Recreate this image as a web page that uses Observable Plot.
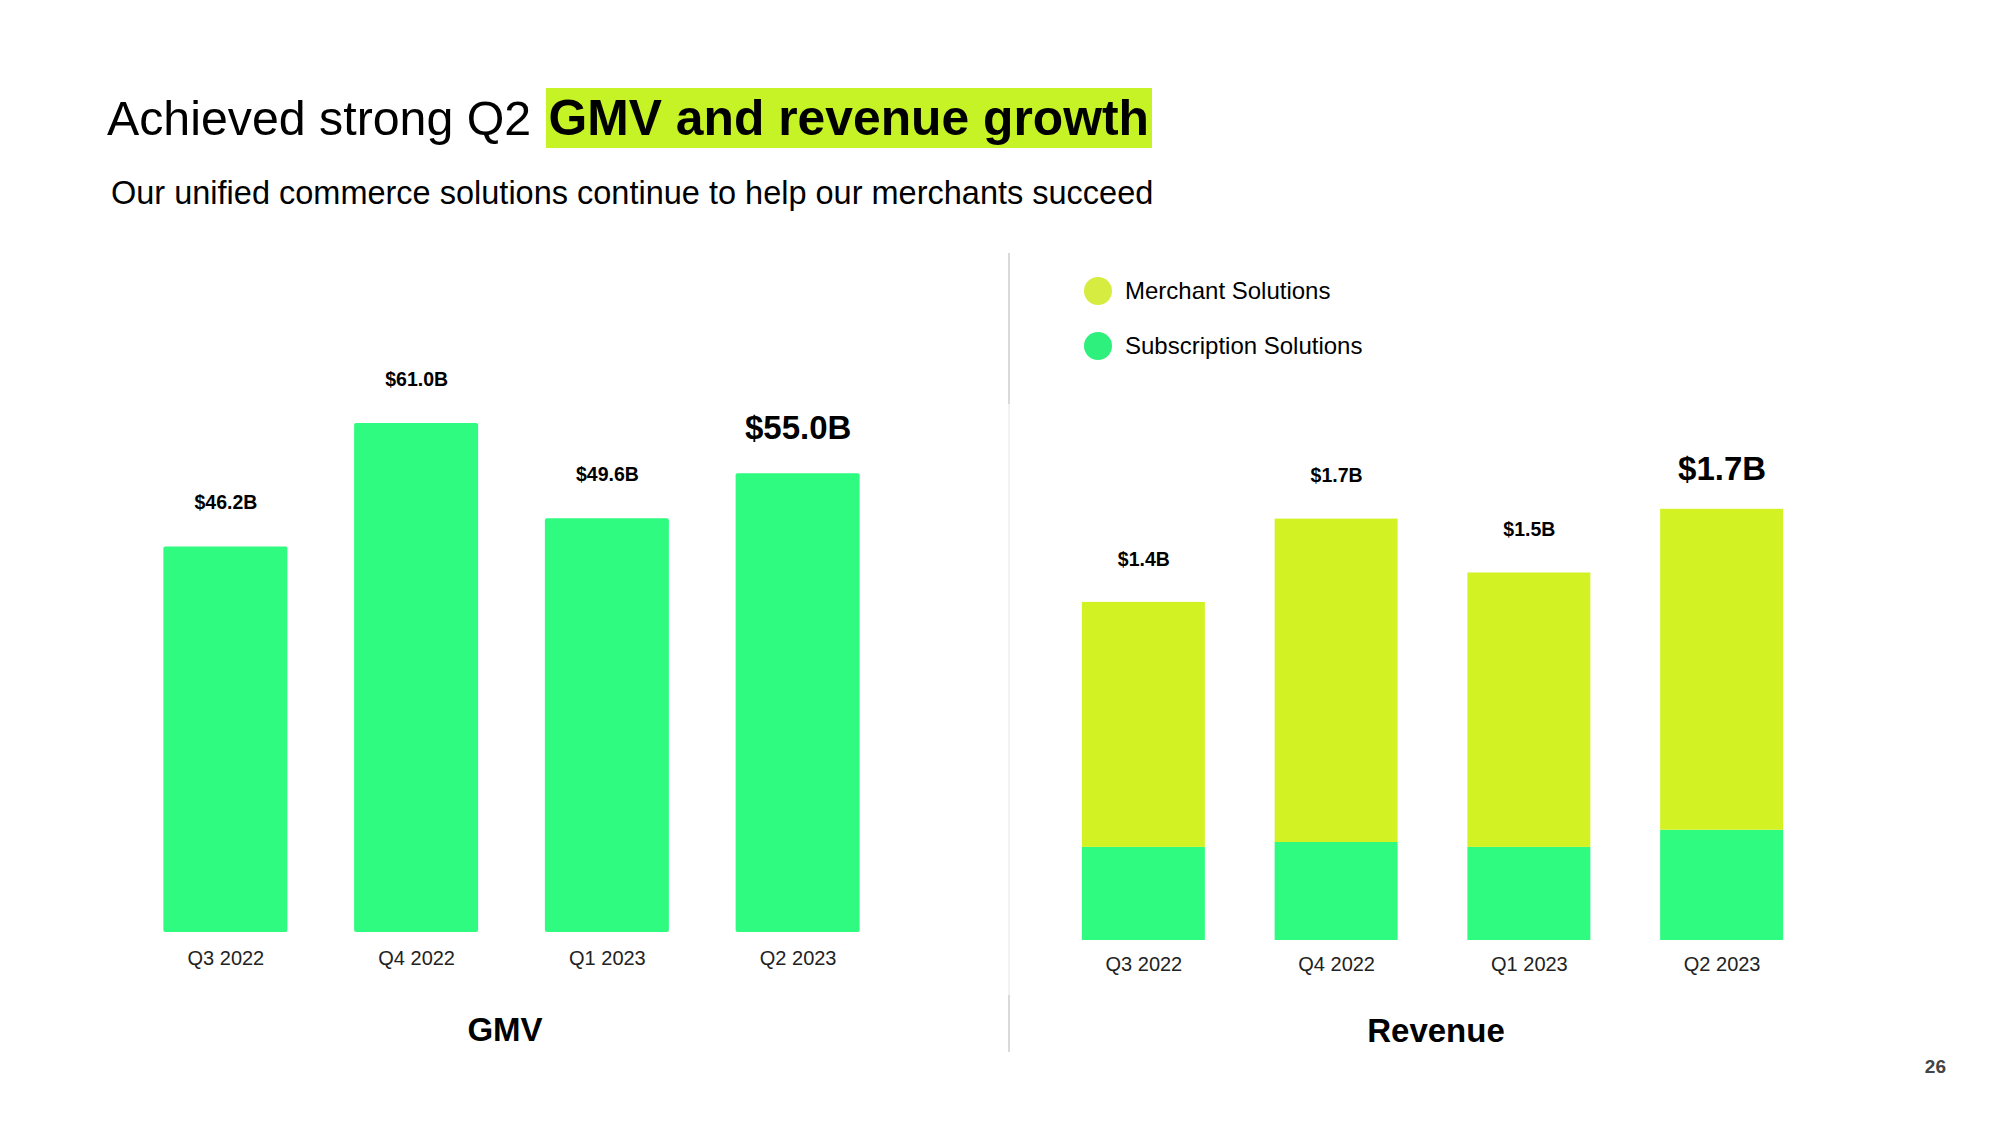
<!DOCTYPE html>
<html>
<head>
<meta charset="utf-8">
<script src="https://cdn.jsdelivr.net/npm/d3@7"></script>
<script src="https://cdn.jsdelivr.net/npm/@observablehq/plot@0.6"></script>
<style>
  html, body { margin: 0; padding: 0; background: #fff; }
  #slide { position: relative; width: 2000px; height: 1125px; overflow: hidden; background: #fff;
           font-family: "Liberation Sans", Arial, Helvetica, sans-serif; color: #000; }
  .abs { position: absolute; }
  #title { left: 107px; top: 88px; font-size: 48.3px; line-height: 60px; white-space: nowrap; font-weight: 400; }
  #title .hl { background: #c6f325; font-weight: 700; font-size: 49.8px; padding: 0 3px; display: inline-block; margin-left: 1px; }
  #subtitle { left: 111px; top: 172px; font-size: 32.5px; line-height: 42px; white-space: nowrap; }
  .legend-item { position: absolute; left: 1084px; height: 30px; display: flex; align-items: center; font-size: 24px; white-space: nowrap; }
  .legend-item .dot { width: 28px; height: 28px; border-radius: 50%; margin-right: 13px; }
  .chart-title { position: absolute; font-weight: 700; font-size: 33px; transform: translate(-50%, -50%); white-space: nowrap; }
  .divider { position: absolute; left: 1008px; width: 2px; }
  #pagenum { right: 54px; top: 1056px; font-size: 19px; font-weight: 700; color: #444; }
</style>
</head>
<body>
<div id="slide">
  <div id="title" class="abs">Achieved strong Q2 <span class="hl">GMV and revenue growth</span></div>
  <div id="subtitle" class="abs">Our unified commerce solutions continue to help our merchants succeed</div>
  <div id="legend"></div>
  <div class="divider" style="top:253px;height:151px;background:#dadada"></div>
  <div class="divider" style="top:404px;height:591px;background:#f2f2f2"></div>
  <div class="divider" style="top:995px;height:57px;background:#dadada"></div>
  <div class="chart-title" style="left:505px;top:1030px">GMV</div>
  <div class="chart-title" style="left:1436px;top:1031px">Revenue</div>
  <div id="pagenum" class="abs">26</div>
  <div id="gmv" class="abs" style="left:0px;top:300px"></div>
  <div id="rev" class="abs" style="left:1000px;top:300px"></div>
</div>
<script>
// ---- data ----
const quarters = ["Q3 2022", "Q4 2022", "Q1 2023", "Q2 2023"];
const gmvValues = [46.2, 61.0, 49.6, 55.0];            // $B
const gmvLabels = ["$46.2B", "$61.0B", "$49.6B", "$55.0B"];
const subscriptionRevenue = [0.38, 0.40, 0.38, 0.45];  // $B
const merchantRevenue = [1.00, 1.32, 1.12, 1.31];      // $B
const revenueLabels = ["$1.4B", "$1.7B", "$1.5B", "$1.7B"];
const seriesNames = ["Merchant Solutions", "Subscription Solutions"];
const seriesColors = ["#d2f224", "#2efb7f"];
const legendColors = ["#d6ec40", "#2ef07c"];

const FONT = '"Liberation Sans", Arial, Helvetica, sans-serif';

// ---- legend ----
const legend = document.getElementById("legend");
seriesNames.forEach((name, i) => {
  const item = document.createElement("div");
  item.className = "legend-item";
  item.style.top = (i === 0 ? 276 : 331) + "px";
  item.innerHTML = `<span class="dot" style="background:${legendColors[i]}"></span><span>${name}</span>`;
  legend.appendChild(item);
});

// ---- GMV chart ----
const gmvData = quarters.map((q, i) => ({quarter: q, value: gmvValues[i], label: gmvLabels[i], latest: i === quarters.length - 1}));
const gmvPlot = Plot.plot({
  width: 1000,
  height: 692,
  marginLeft: 130,
  marginRight: 107,
  marginTop: 48,
  marginBottom: 60,
  style: {fontFamily: FONT, fontSize: "20px", color: "#222", background: "transparent", overflow: "visible"},
  x: {domain: quarters, paddingInner: 0.35, paddingOuter: 0.175, round: false, label: null},
  y: {domain: [0, 70], axis: null},
  marks: [
    Plot.barY(gmvData, {x: "quarter", y: "value", fill: seriesColors[1], rx: 2}),
    Plot.text(gmvData.filter(d => !d.latest), {x: "quarter", y: "value", text: "label", dy: -44, lineAnchor: "middle", fontSize: 19.5, fontWeight: "bold", fill: "#000"}),
    Plot.text(gmvData.filter(d => d.latest), {x: "quarter", y: "value", text: "label", dy: -45, lineAnchor: "middle", fontSize: 33, fontWeight: "bold", fill: "#000"}),
    Plot.axisX({tickSize: 0, tickPadding: 18, label: null, fontSize: 20})
  ]
});
document.getElementById("gmv").appendChild(gmvPlot);

// ---- Revenue chart ----
const revData = [];
quarters.forEach((q, i) => {
  revData.push({quarter: q, series: seriesNames[1], value: subscriptionRevenue[i]});
  revData.push({quarter: q, series: seriesNames[0], value: merchantRevenue[i]});
});
const revTotals = quarters.map((q, i) => ({quarter: q, total: subscriptionRevenue[i] + merchantRevenue[i], label: revenueLabels[i], latest: i === quarters.length - 1}));
const revPlot = Plot.plot({
  width: 1000,
  height: 700,
  marginLeft: 47,
  marginRight: 182,
  marginTop: 150,
  marginBottom: 60,
  style: {fontFamily: FONT, fontSize: "20px", color: "#222", background: "transparent", overflow: "visible"},
  x: {domain: quarters, paddingInner: 0.362, paddingOuter: 0.181, round: false, label: null},
  y: {domain: [0, 2], axis: null},
  color: {domain: seriesNames, range: seriesColors},
  marks: [
    Plot.barY(revData, {x: "quarter", y: "value", fill: "series", order: null}),
    Plot.text(revTotals.filter(d => !d.latest), {x: "quarter", y: "total", text: "label", dy: -43, lineAnchor: "middle", fontSize: 19.5, fontWeight: "bold", fill: "#000"}),
    Plot.text(revTotals.filter(d => d.latest), {x: "quarter", y: "total", text: "label", dy: -40, lineAnchor: "middle", fontSize: 33, fontWeight: "bold", fill: "#000"}),
    Plot.axisX({tickSize: 0, tickPadding: 16, label: null, fontSize: 20})
  ]
});
document.getElementById("rev").appendChild(revPlot);
</script>
</body>
</html>
